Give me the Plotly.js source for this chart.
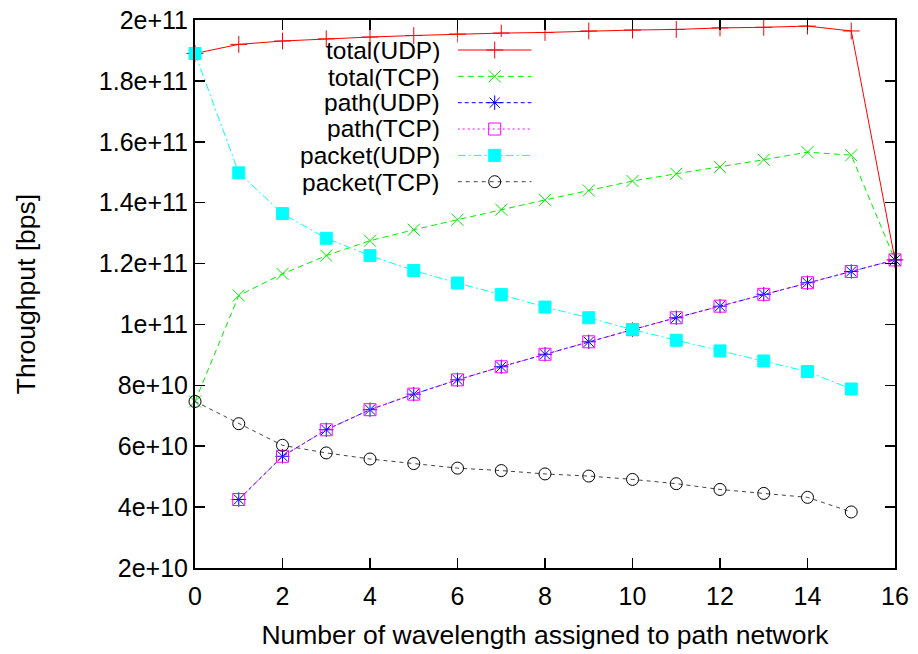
<!DOCTYPE html>
<html><head><meta charset="utf-8">
<script src="https://cdn.plot.ly/plotly-3.0.1.min.js"></script>
<style>html,body{margin:0;padding:0;background:#fff}#c{width:918px;height:654px}</style>
</head><body><div id="c"></div>
<script>
const xAll = [0,1,2,3,4,5,6,7,8,9,10,11,12,13,14,15,16];
const xPath = [1,2,3,4,5,6,7,8,9,10,11,12,13,14,15,16];
const xPacket = [0,1,2,3,4,5,6,7,8,9,10,11,12,13,14,15];
const totalUDP = [1.89e11,1.92e11,1.931e11,1.938e11,1.944e11,1.949e11,1.954e11,1.957e11,1.959e11,1.964e11,1.967e11,1.969e11,1.974e11,1.976e11,1.98e11,1.964e11,1.212e11];
const totalTCP = [7.47e10,1.095e11,1.166e11,1.226e11,1.275e11,1.311e11,1.344e11,1.377e11,1.409e11,1.44e11,1.471e11,1.495e11,1.517e11,1.541e11,1.566e11,1.556e11,1.212e11];
const pathUDP = [4.25e10,5.67e10,6.54e10,7.2e10,7.71e10,8.18e10,8.61e10,9.02e10,9.43e10,9.83e10,1.022e11,1.06e11,1.099e11,1.137e11,1.174e11,1.212e11];
const pathTCP = [4.25e10,5.67e10,6.54e10,7.2e10,7.71e10,8.18e10,8.61e10,9.02e10,9.43e10,9.83e10,1.022e11,1.06e11,1.099e11,1.137e11,1.174e11,1.212e11];
const packetUDP = [1.89e11,1.498e11,1.364e11,1.283e11,1.226e11,1.177e11,1.136e11,1.098e11,1.057e11,1.022e11,9.83e10,9.48e10,9.13e10,8.8e10,8.45e10,7.88e10];
const packetTCP = [7.47e10,6.74e10,6.03e10,5.78e10,5.58e10,5.43e10,5.28e10,5.2e10,5.09e10,5.02e10,4.91e10,4.77e10,4.58e10,4.45e10,4.32e10,3.84e10];
const names = ["total(UDP)","total(TCP)","path(UDP)","path(TCP)","packet(UDP)","packet(TCP)"];
const yTickVals = [2e10,4e10,6e10,8e10,1e11,1.2e11,1.4e11,1.6e11,1.8e11,2e11];
const yTickText = ["2e+10","4e+10","6e+10","8e+10","1e+11","1.2e+11","1.4e+11","1.6e+11","1.8e+11","2e+11"];
const xTickVals = [0,2,4,6,8,10,12,14,16];

const styles = [
  {color:"#ff0000", dash:"solid", sym:"cross-thin-open", size:12, mcolor:"#ff0000"},
  {color:"#00ee00", dash:"6px,4px", sym:"x-thin-open", size:12, mcolor:"#00ee00"},
  {color:"#0000ff", dash:"4px,3px", sym:"asterisk-open", size:12, mcolor:"#0000ff"},
  {color:"#ff00ff", dash:"2px,3px", sym:"square-open", size:12, mcolor:"#ff00ff"},
  {color:"#00ffff", dash:"8px,3px,2px,3px", sym:"square", size:12, mcolor:"#00ffff"},
  {color:"#444444", dash:"4px,4px", sym:"circle-open", size:12, mcolor:"#000000"}
];
const seriesX = [xAll,xAll,xPath,xPath,xPacket,xPacket];
const seriesY = [totalUDP,totalTCP,pathUDP,pathTCP,packetUDP,packetTCP];

const L = 195, R = 23, T = 20, B = 86, W = 918, H = 654;
const pw = W - L - R, ph = H - T - B;
const px2x = p => (p - L) / pw;
const py2y = p => (H - B - p) / ph;

const traces = [];
for (let i=0;i<6;i++){
  const s = styles[i];
  traces.push({x:seriesX[i], y:seriesY[i], mode:"lines+markers", name:names[i], showlegend:false,
    line:{color:s.color, width:1, dash:s.dash},
    marker:{symbol:s.sym, size:s.size, color:s.mcolor, line:{color:s.mcolor, width:1}},
    xaxis:"x", yaxis:"y", cliponaxis:false});
}
const fam = "Liberation Sans, Arial, sans-serif";
const tf = {family:fam, size:25, color:"#000"};
const lf = {family:fam, size:24.5, color:"#000"};
const titleF = {family:fam, size:26.5, color:"#000"};
const rowPx = [50, 76.7, 101.7, 128.3, 155, 181.7];
const legRow = [0,1,2,3,4,5];
const annotations = [];
for (let i=0;i<6;i++){
  const s = styles[i];
  traces.push({x:[0,1],y:[legRow[i],legRow[i]],mode:"lines",showlegend:false,hoverinfo:"skip",
    line:{color:s.color,width:1,dash:s.dash}, xaxis:"x2", yaxis:"y2"});
  traces.push({x:[0.5],y:[legRow[i]],mode:"markers",showlegend:false,hoverinfo:"skip",
    marker:{symbol:s.sym,size:s.size,color:s.mcolor,line:{color:s.mcolor,width:1}}, xaxis:"x2", yaxis:"y2"});
  annotations.push({xref:"paper", yref:"paper", x:px2x(441), y:py2y(rowPx[i]), text:names[i], showarrow:false,
    xanchor:"right", yanchor:"middle", height:26, valign:"middle", borderpad:0, font:lf});
}
const step = 26.34;
const layout = {
  width:W, height:H, paper_bgcolor:"#fff", plot_bgcolor:"#fff",
  margin:{l:L, r:R, t:T, b:B, pad:0},
  font: tf, showlegend:false,
  xaxis:{range:[0,16], tickvals:xTickVals, ticks:"inside", ticklen:10, tickwidth:1.5, tickcolor:"#000",
    showline:true, linewidth:2, linecolor:"#000", mirror:"ticks", showgrid:false, zeroline:false,
    ticklabelstandoff:5,
    tickfont:tf, title:{text:"Number of wavelength assigned to path network", font:titleF, standoff:16}},
  yaxis:{range:[2e10,2e11], tickvals:yTickVals, ticktext:yTickText, ticks:"inside", ticklen:10, tickwidth:1.5, tickcolor:"#000",
    showline:true, linewidth:2, linecolor:"#000", mirror:"ticks", showgrid:false, zeroline:false,
    tickfont:tf, title:{text:"Throughput [bps]", font:titleF, standoff:56}},
  xaxis2:{domain:[px2x(457.7),px2x(531.7)], range:[0,1], visible:false, fixedrange:true, anchor:"y2"},
  yaxis2:{domain:[py2y(rowPx[5]+step/2), py2y(rowPx[0]-step/2)], range:[5.5,-0.5], visible:false, fixedrange:true, anchor:"x2"},
  annotations: annotations
};
Plotly.newPlot("c", traces, layout, {staticPlot:true});
</script></body></html>
